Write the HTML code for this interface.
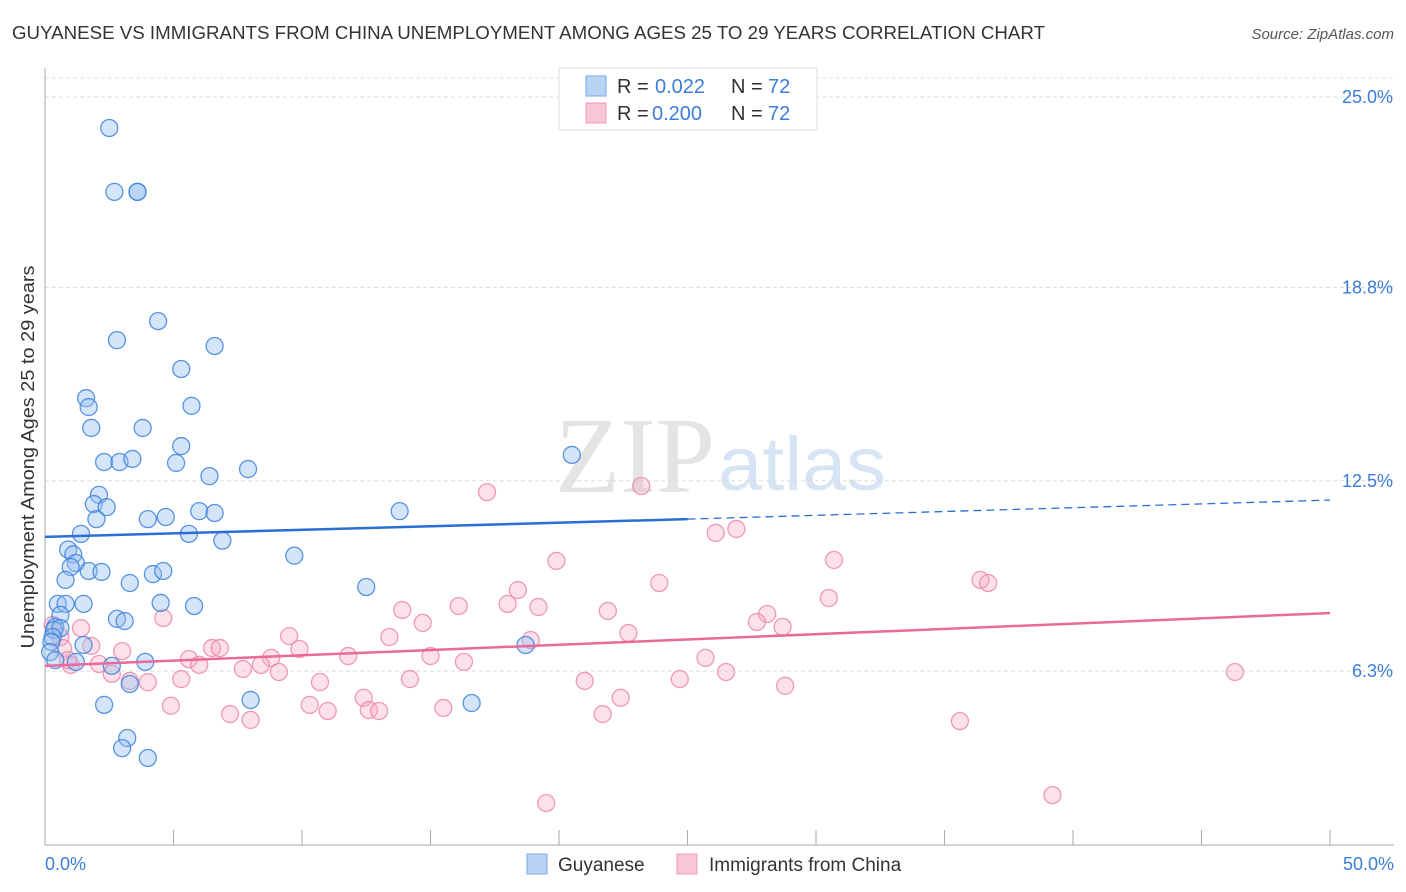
<!DOCTYPE html>
<html><head><meta charset="utf-8">
<style>
body{margin:0;background:#fff;font-family:"Liberation Sans",sans-serif;}
svg{display:block}
</style></head>
<body>
<svg width="1406" height="892" id="chart">
<text x="12" y="39" font-size="18.5" fill="#333" textLength="1033" lengthAdjust="spacingAndGlyphs">GUYANESE VS IMMIGRANTS FROM CHINA UNEMPLOYMENT AMONG AGES 25 TO 29 YEARS CORRELATION CHART</text>
<text x="1394" y="39" font-size="15" fill="#555" font-style="italic" text-anchor="end">Source: ZipAtlas.com</text>
<text x="555" y="492" font-size="108" fill="#e4e4e4" font-family="Liberation Serif,serif" textLength="160" lengthAdjust="spacingAndGlyphs">ZIP</text>
<text x="718" y="490" font-size="76" fill="#d6e4f3" textLength="168" lengthAdjust="spacingAndGlyphs">atlas</text>
<g id="grid"></g>
<line x1="45" y1="68" x2="45" y2="845" stroke="#aaa"/>
<line x1="45" y1="845" x2="1394" y2="845" stroke="#aaa"/>
<g id="ticks"></g>
<text transform="translate(34,457) rotate(-90)" font-size="18" fill="#333" text-anchor="middle" textLength="383" lengthAdjust="spacingAndGlyphs">Unemployment Among Ages 25 to 29 years</text>
<text x="45" y="870" font-size="18" fill="#3b7dd8">0.0%</text>
<text x="1394" y="870" font-size="18" fill="#3b7dd8" text-anchor="end">50.0%</text>
<g id="pts"></g>
<g id="lines"></g>
<g>
<rect x="559" y="68" width="258" height="62" fill="#fff" stroke="#ddd"/>
<rect x="586" y="76" width="20" height="20" fill="#b9d3f5" stroke="#7aa8e6"/>
<rect x="586" y="103" width="20" height="20" fill="#f9c6d5" stroke="#ee9ab3"/>
<text x="617" y="93" font-size="20" fill="#333">R =  <tspan x="655" fill="#3b7dd8">0.022</tspan><tspan x="731">N =</tspan><tspan x="768" fill="#3b7dd8">72</tspan></text>
<text x="617" y="120" font-size="20" fill="#333">R = <tspan x="652" fill="#3b7dd8">0.200</tspan><tspan x="731">N =</tspan><tspan x="768" fill="#3b7dd8">72</tspan></text>
</g>
<g>
<rect x="527" y="854" width="20" height="20" fill="#b9d3f5" stroke="#7aa8e6"/>
<text x="558" y="871" font-size="19" fill="#333">Guyanese</text>
<rect x="677" y="854" width="20" height="20" fill="#f9c6d5" stroke="#ee9ab3"/>
<text x="709" y="871" font-size="19" fill="#333">Immigrants from China</text>
</g>
</svg>
<script>
const yTicks=[25.0,18.8,12.5,6.3];
const yTickLabels=["25.0%","18.8%","12.5%","6.3%"];
const xTicks=[0,5,10,15,20,25,30,35,40,45,50];
const guyX=[2.5,2.7,3.6,3.6,4.4,2.8,6.6,5.3,1.6,1.7,5.7,1.8,3.8,5.3,2.3,2.9,3.4,5.1,6.4,7.9,20.5,2.1,1.9,2.4,2.0,4.0,4.7,6.0,6.6,13.8,1.4,5.6,6.9,0.9,1.1,9.7,1.2,1.0,1.7,2.2,4.2,4.6,0.8,3.3,12.5,0.5,0.8,1.5,4.5,5.8,0.6,2.8,3.1,0.4,0.35,0.6,0.3,0.25,1.5,18.7,0.2,1.2,2.6,3.9,3.3,8.0,2.3,16.6,3.2,3.0,4.0,0.4];
const guyY=[23.99,21.91,21.91,21.91,17.70,17.08,16.89,16.14,15.19,14.90,14.94,14.22,14.22,13.63,13.11,13.11,13.21,13.08,12.65,12.88,13.34,12.04,11.74,11.64,11.25,11.25,11.32,11.51,11.45,11.51,10.77,10.77,10.55,10.26,10.10,10.06,9.82,9.69,9.56,9.53,9.46,9.56,9.27,9.17,9.04,8.49,8.49,8.49,8.52,8.42,8.13,8.00,7.93,7.74,7.64,7.70,7.41,7.25,7.15,7.15,6.92,6.60,6.47,6.60,5.88,5.36,5.20,5.26,4.12,3.79,3.47,6.66];
const chnX=[17.2,23.2,26.1,26.9,19.9,30.7,18.4,23.9,36.4,36.7,30.5,13.9,16.1,18.0,19.2,21.9,28.1,27.7,28.7,4.6,14.7,13.4,9.5,22.7,1.4,0.3,0.6,1.8,3.0,6.5,6.8,9.9,11.8,15.0,18.9,25.7,5.6,8.8,6.0,2.1,1.0,7.7,8.4,9.1,16.3,26.5,46.3,2.6,5.3,10.7,14.2,21.0,24.7,28.8,3.3,4.0,12.4,22.4,10.3,11.0,4.9,7.2,8.0,12.6,13.0,15.5,21.7,35.6,39.2,19.5,0.7,0.9];
const chnY=[12.13,12.33,10.80,10.93,9.89,9.92,8.94,9.17,9.27,9.17,8.68,8.29,8.42,8.49,8.39,8.26,8.16,7.90,7.74,8.03,7.87,7.41,7.44,7.54,7.70,7.80,7.41,7.12,6.95,7.05,7.05,7.02,6.79,6.79,7.31,6.73,6.69,6.73,6.50,6.53,6.50,6.37,6.50,6.27,6.60,6.27,6.27,6.21,6.04,5.94,6.04,5.98,6.04,5.82,5.98,5.94,5.43,5.43,5.20,5.00,5.17,4.90,4.71,5.03,5.00,5.10,4.90,4.67,2.26,2.00,7.05,6.66];
const guyTrend=[[0,10.67],[25,11.25],[50,11.87]];
const chnTrend=[[0,6.47],[50,8.19]];
const X=v=>45+v*25.7, Y=v=>864.5-v*30.7;
const NS="http://www.w3.org/2000/svg";
function mk(t,a,p){const e=document.createElementNS(NS,t);for(const k in a)e.setAttribute(k,a[k]);p.appendChild(e);return e;}
const grid=document.getElementById('grid'),ticks=document.getElementById('ticks'),pts=document.getElementById('pts'),lines=document.getElementById('lines');
yTicks.forEach((v,i)=>{
 const l=mk('line',{x1:45,x2:1394,y1:Y(v),y2:Y(v),stroke:'#ddd','stroke-dasharray':'4,3'},grid);
 
 
 const t=mk('text',{x:1393,y:Y(v)+6,'font-size':18,fill:'#3b7dd8','text-anchor':'end'},ticks);
 t.textContent=yTickLabels[i];
 
 
});
mk('line',{x1:45,x2:1394,y1:78,y2:78,stroke:'#ddd','stroke-dasharray':'4,3'},grid);
xTicks.forEach(v=>{
 const l=mk('line',{x1:X(v),x2:X(v),y1:830,y2:845,stroke:'#aaa'},ticks);
 
 
});
function dots(xs,ys,fill,stroke,name){
 xs.forEach((x,i)=>{
  const c=mk('circle',{cx:X(x),cy:Y(ys[i]),r:8.5,fill:fill,stroke:stroke,'stroke-width':1.3},pts);
  
  
 });
}
dots(chnX,chnY,'rgba(246,170,195,0.35)','rgba(235,130,165,0.8)','china-point');
dots(guyX,guyY,'rgba(150,190,240,0.4)','rgba(60,130,220,0.85)','guyanese-point');
let b1=mk('line',{x1:X(guyTrend[0][0]),y1:Y(guyTrend[0][1]),x2:X(guyTrend[1][0]),y2:Y(guyTrend[1][1]),stroke:'#2a6fd6','stroke-width':2.5},lines);


let b2=mk('line',{x1:X(guyTrend[1][0]),y1:Y(guyTrend[1][1]),x2:X(guyTrend[2][0]),y2:Y(guyTrend[2][1]),stroke:'#2a6fd6','stroke-width':1.3,'stroke-dasharray':'8,5'},lines);


let p1=mk('line',{x1:X(chnTrend[0][0]),y1:Y(chnTrend[0][1]),x2:X(chnTrend[1][0]),y2:Y(chnTrend[1][1]),stroke:'#e8699a','stroke-width':2.5},lines);


</script>
</body></html>
